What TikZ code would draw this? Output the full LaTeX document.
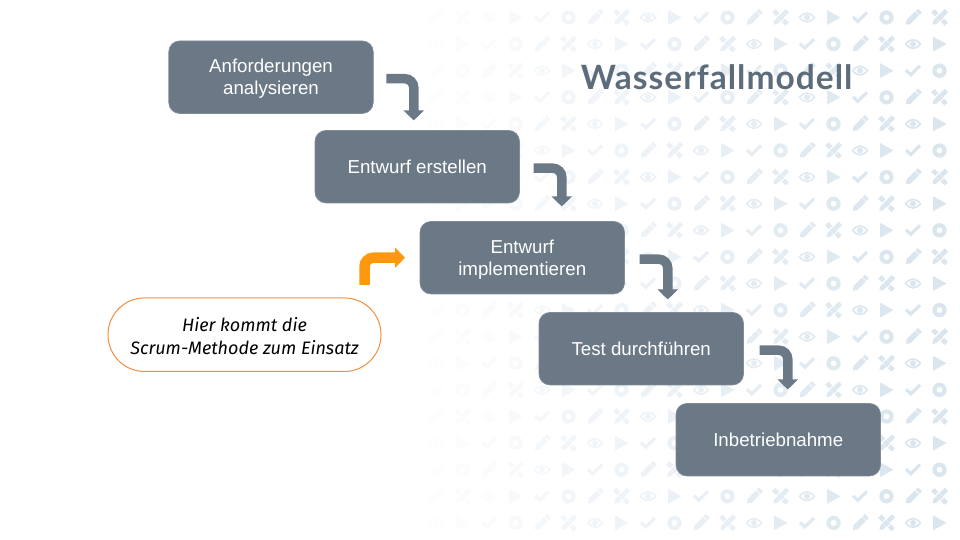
\documentclass[tikz,border=0pt]{standalone}
\usepackage{fontspec}
\setmainfont{Liberation Sans}
\newfontfamily\calloutfont{Fira Sans}
\newfontfamily\titlefont[LetterSpace=3]{Lato}
\usetikzlibrary{arrows.meta,positioning}
\definecolor{boxgray}{HTML}{6B7885}
\definecolor{boxedge}{HTML}{808C98}
\definecolor{titlegray}{HTML}{5D6C7B}
\definecolor{orangeline}{HTML}{F0903F}
\definecolor{orangeflow}{HTML}{FF980E}
\definecolor{iconblue}{HTML}{DAE5EE}
\newcommand{\linestrut}{\rule{0pt}{16.5pt}}
\tikzset{
  patpencil/.pic={\fill[iconcol,rotate=45] (-10,0) -- (-6.5,-2.8) -- (5.5,-2.8) -- (5.5,2.8) -- (-6.5,2.8) -- cycle
    (6.4,-2.8) rectangle (9.8,2.8);},
  pattools/.pic={\fill[iconcol,rotate=45] (-10,0) -- (-7,-2.3) -- (-2.6,-2.3) -- (-2.6,2.3) -- (-7,2.3) -- cycle
    (2.6,-2.3) rectangle (9.8,2.3);
    \fill[iconcol,rotate=-45] (-9.5,-2.3) rectangle (-4,2.3) (-2.6,-2.3) rectangle (3,2.3) (4.2,-2.3) rectangle (9.5,2.3);},
  pateye/.pic={\fill[iconcol,even odd rule] (-8.5,0) .. controls (-3,-7) and (3,-7) .. (8.5,0)
      .. controls (3,7) and (-3,7) .. (-8.5,0)
      (-6.6,0) .. controls (-2,-4.6) and (2,-4.6) .. (6.6,0) .. controls (2,4.6) and (-2,4.6) .. (-6.6,0);
    \fill[iconcol] (0,0) circle[radius=3pt];},
  patplay/.pic={\fill[iconcol] (-6.5,-7.5) -- (7,0) -- (-6.5,7.5) -- cycle;},
  patcheck/.pic={\draw[iconcol,line width=3.2pt] (-7,-0.5) -- (-2.2,4) -- (7,-5);},
  patring/.pic={\fill[iconcol,even odd rule] (0,0) circle[radius=7.2pt] (0,0) circle[radius=3pt];},
}
\begin{document}
\begin{tikzpicture}[
  x=1pt,y=-1pt,
  stepbox/.style={draw=boxedge,line width=0.7pt,fill=boxgray,rounded corners=11pt,align=center,
    minimum width=204.5pt,minimum height=72.5pt,inner sep=0pt,outer sep=0pt,text=white,
    font=\fontsize{18.7}{22}\selectfont},
  notebox/.style={draw=orangeline,line width=1pt,fill=white,rounded corners=36.5pt,align=center,
    minimum width=273pt,minimum height=73.5pt,inner sep=0pt,outer sep=0pt,
    font=\calloutfont\itshape\fontsize{18}{22.5}\selectfont},
  flow/.style={draw=boxgray,line width=9.5pt,rounded corners=9pt,
    -{Triangle[width=20pt,length=10pt]}},
  noteflow/.style={flow,draw=orangeflow,line width=10.5pt},
  titletext/.style={text=titlegray,inner sep=0pt,font=\titlefont\bfseries\fontsize{33.5}{36}\selectfont},
]
\useasboundingbox (0,0) rectangle (960,540);
% background icons
\foreach \row in {0,...,19}{
  \foreach \col in {0,...,19}{
    \pgfmathsetmacro{\px}{436+26.5*\col}
    \pgfmathsetmacro{\py}{17.5+26.6*\row}
    \pgfmathtruncatemacro{\idx}{mod(\col+2*\row,6)}
    \pgfmathtruncatemacro{\pct}{min(100,7+5.3*\col)}
    \colorlet{iconcol}{iconblue!\pct!white}
    \ifcase\idx \pic at (\px,\py) {patpencil};
    \or \pic at (\px,\py) {pattools};
    \or \pic at (\px,\py) {pateye};
    \or \pic at (\px,\py) {patplay};
    \or \pic at (\px,\py) {patcheck};
    \or \pic at (\px,\py) {patring};
    \fi
  }
}
\node[titletext] (title) at (716.5,77) {Wasserfallmodell};
% steps
\node[stepbox] (req) at (271,77.2) {\linestrut Anforderungen\\analysieren};
\node[stepbox,below right=17pt and -58.25pt of req] (design) {Entwurf erstellen};
\node[stepbox,below right=18.5pt and -99.5pt of design] (impl) {\linestrut Entwurf\\implementieren};
\node[stepbox,below right=18.5pt and -85.5pt of impl] (test) {Test durchführen};
\node[stepbox,below right=18.5pt and -67.5pt of test] (golive) {Inbetriebnahme};
\node[notebox,below left=4pt and 39pt of impl] (scrum) {\linestrut Hier kommt die\\Scrum-Methode zum Einsatz};
% arrows
\draw[flow,shorten <=13pt,shorten >=10pt] ([yshift=-1.5pt]req.east) -| ([xshift=-3.5pt]design.north);
\draw[flow,shorten <=14pt,shorten >=15pt] ([yshift=-1.5pt]design.east) -| ([xshift=39.5pt]impl.north);
\draw[flow,shorten <=15pt,shorten >=13pt] ([yshift=-1.5pt]impl.east) -| ([xshift=26.5pt]test.north);
\draw[flow,shorten <=16pt,shorten >=14pt] ([yshift=-1.5pt]test.east) -| ([xshift=9.5pt]golive.north);
\draw[noteflow,shorten <=13pt,shorten >=15pt] ([xshift=-16.5pt]scrum.north east) |- (impl.west);
\end{tikzpicture}
\end{document}
